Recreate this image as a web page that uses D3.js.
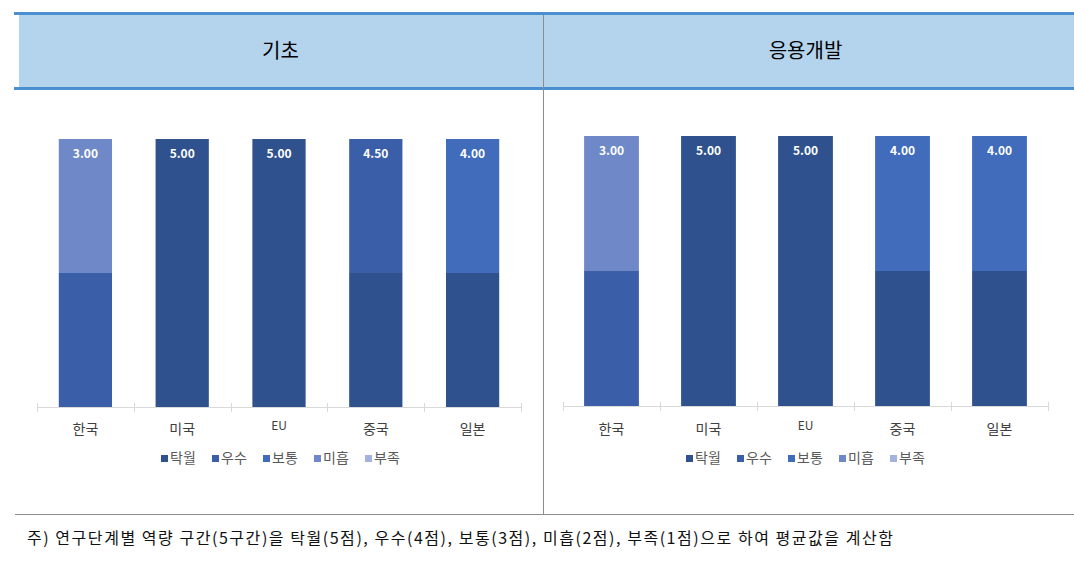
<!DOCTYPE html>
<html>
<head>
<meta charset="utf-8">
<script src="https://cdn.jsdelivr.net/npm/d3@7"></script>
<style>
  body { margin: 0; background: #fff; }
  text { font-family: "Noto Sans CJK KR", "Noto Sans", sans-serif; }
</style>
</head>
<body>
<div id="chart"></div>
<script>
// data
const countries = ["한국", "미국", "EU", "중국", "일본"];
const levels = ["탁월", "우수", "보통", "미흡", "부족"];
const levelColors = ["#2F528F", "#3A5EA7", "#416BBB", "#6F89C8", "#A3B3DD"];
const panelTitles = ["기초", "응용개발"];

// each bar is two equal halves, coloured by the level of that half
const basicLower = ["우수", "탁월", "탁월", "탁월", "탁월"];
const basicUpper = ["미흡", "탁월", "탁월", "우수", "보통"];
const basicAvg = [3.00, 5.00, 5.00, 4.50, 4.00];

const appliedLower = ["우수", "탁월", "탁월", "탁월", "탁월"];
const appliedUpper = ["미흡", "탁월", "탁월", "보통", "보통"];
const appliedAvg = [3.00, 5.00, 5.00, 4.00, 4.00];

const note = "주) 연구단계별 역량 구간(5구간)을 탁월(5점), 우수(4점), 보통(3점), 미흡(2점), 부족(1점)으로 하여 평균값을 계산함";

const W = 1074, H = 562;
const svg = d3.select("#chart").append("svg")
    .attr("width", W)
    .attr("height", H);

const color = d3.scaleOrdinal().domain(levels).range(levelColors);

// header band
svg.append("rect").attr("x", 19).attr("y", 15).attr("width", W - 19).attr("height", 72).attr("fill", "#B4D3EC");
svg.append("rect").attr("x", 14).attr("y", 12).attr("width", W - 14).attr("height", 3).attr("fill", "#4A8FD0");
svg.append("rect").attr("x", 14).attr("y", 87).attr("width", W - 14).attr("height", 3).attr("fill", "#4A8FD0");

// divider + bottom rule
svg.append("line").attr("x1", 543.5).attr("x2", 543.5).attr("y1", 15).attr("y2", 514)
    .attr("stroke", "#8C8C8C").attr("stroke-width", 1);
svg.append("line").attr("x1", 15).attr("x2", W).attr("y1", 514.5).attr("y2", 514.5)
    .attr("stroke", "#8C8C8C").attr("stroke-width", 1);

// panels
const panels = [
  {title: panelTitles[0], lower: basicLower, upper: basicUpper, avg: basicAvg,
   x0: 37, x1: 521, top: 139, bottom: 407, barFrac: 0.55, cx: 281.5},
  {title: panelTitles[1], lower: appliedLower, upper: appliedUpper, avg: appliedAvg,
   x0: 563, x1: 1048, top: 136, bottom: 406, barFrac: 0.565, cx: 806.5}
];

panels.forEach(p => {
  const g = svg.append("g");

  g.append("text")
    .attr("x", p.cx - 1).attr("y", 58)
    .attr("text-anchor", "middle")
    .attr("font-size", 20)
    .attr("fill", "#000")
    .text(p.title);

  const x = d3.scaleBand().domain(countries).range([p.x0, p.x1]).padding(0);
  const y = d3.scaleLinear().domain([0, 2]).range([p.bottom, p.top]);

  const rows = countries.map((c, i) => ({country: c, lower: p.lower[i], upper: p.upper[i], avg: p.avg[i]}));
  const bw = x.bandwidth() * p.barFrac;
  const off = (x.bandwidth() - bw) / 2;

  // axis with crossing ticks at band edges
  g.append("line")
    .attr("x1", p.x0).attr("x2", p.x1)
    .attr("y1", p.bottom + 0.5).attr("y2", p.bottom + 0.5)
    .attr("stroke", "#D9D9D9");
  const edges = countries.map(c => x(c)).concat([p.x1]);
  g.selectAll("line.tick").data(edges).join("line")
    .attr("class", "tick")
    .attr("x1", d => Math.round(d) + 0.5).attr("x2", d => Math.round(d) + 0.5)
    .attr("y1", p.bottom - 4).attr("y2", p.bottom + 5)
    .attr("stroke", "#D9D9D9");

  // lower half
  g.selectAll("rect.lower").data(rows).join("rect")
    .attr("class", "lower")
    .attr("x", d => x(d.country) + off)
    .attr("width", bw)
    .attr("y", y(1))
    .attr("height", y(0) - y(1))
    .attr("fill", d => color(d.lower));

  // upper half
  g.selectAll("rect.upper").data(rows).join("rect")
    .attr("class", "upper")
    .attr("x", d => x(d.country) + off)
    .attr("width", bw)
    .attr("y", y(2))
    .attr("height", y(1) - y(2))
    .attr("fill", d => color(d.upper));

  // value labels
  g.selectAll("text.val").data(rows).join("text")
    .attr("class", "val")
    .attr("x", d => x(d.country) + x.bandwidth() / 2)
    .attr("y", y(2) + 19)
    .attr("text-anchor", "middle")
    .attr("font-family", "'Open Sans', sans-serif")
    .attr("font-weight", "bold")
    .attr("font-size", 12)
    .attr("fill", "#fff")
    .text(d => d3.format(".2f")(d.avg));

  // category labels
  g.selectAll("text.cat").data(countries).join("text")
    .attr("class", "cat")
    .attr("x", d => x(d) + x.bandwidth() / 2)
    .attr("y", d => d === "EU" ? 430 : 434)
    .attr("text-anchor", "middle")
    .attr("font-size", d => d === "EU" ? 12 : 14)
    .attr("fill", "#404040")
    .text(d => d);

  // legend
  const step = 51;
  const lg = g.append("g").attr("transform", `translate(${p.cx - 120.5},0)`);
  const items = lg.selectAll("g").data(levels).join("g")
    .attr("transform", (d, i) => `translate(${i * step},0)`);
  items.append("rect")
    .attr("x", 0).attr("y", 455)
    .attr("width", 7).attr("height", 7)
    .attr("fill", d => color(d));
  items.append("text")
    .attr("x", 9).attr("y", 463)
    .attr("font-size", 14)
    .attr("fill", "#595959")
    .text(d => d);
});

// footnote
svg.append("text")
  .attr("x", 27).attr("y", 544)
  .attr("font-size", 16)
  .attr("fill", "#111")
  .attr("textLength", 866)
  .attr("lengthAdjust", "spacing")
  .text(note);
</script>
</body>
</html>
